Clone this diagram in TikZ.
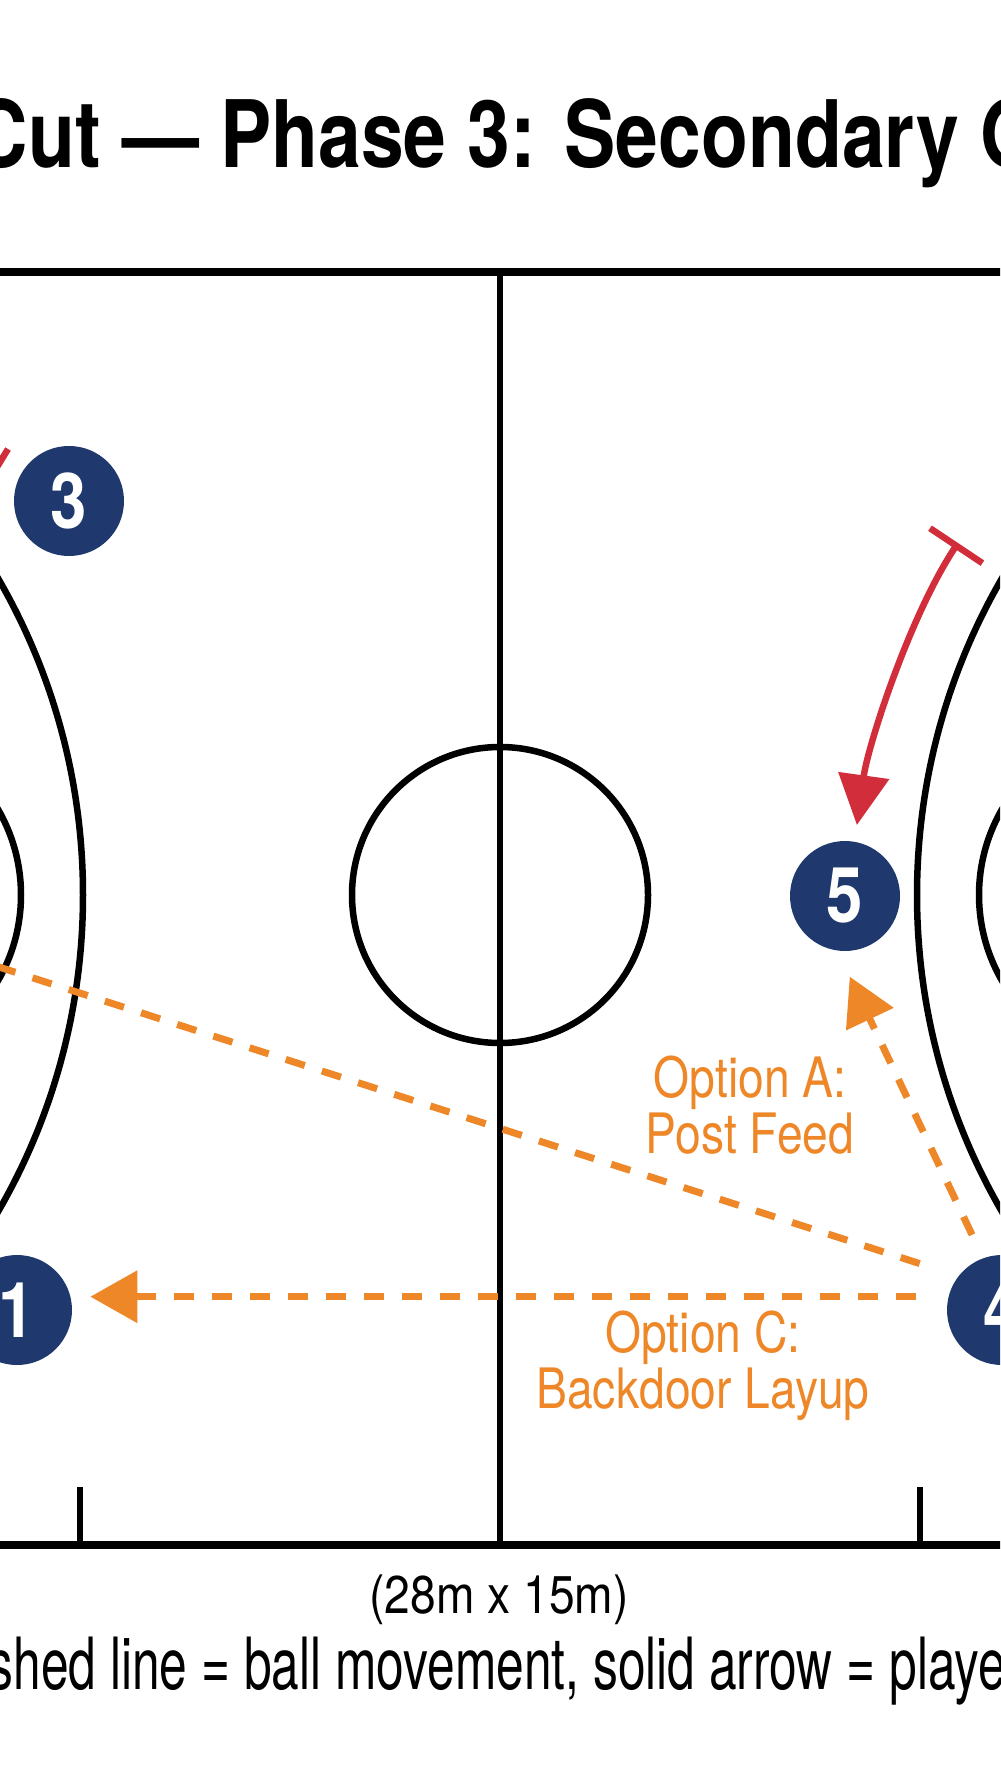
\documentclass[tikz,border=0pt]{standalone}
\usepackage{fontspec}
\setmainfont{TeX Gyre Heros}
\newfontfamily\titlefont[FakeStretch=0.825]{TeX Gyre Heros}
\newfontfamily\numfont[FakeStretch=0.85]{TeX Gyre Heros}
\newfontfamily\optfont[FakeStretch=0.83]{TeX Gyre Heros}
\newfontfamily\sizefont[FakeStretch=0.87]{TeX Gyre Heros}
\newfontfamily\keyfont[FakeStretch=0.69]{TeX Gyre Heros}
\usetikzlibrary{arrows.meta}
\definecolor{navy}{RGB}{31,56,109}
\definecolor{passorange}{RGB}{238,135,40}
\definecolor{cutred}{RGB}{210,45,58}
\tikzset{
  court/.style = {black, line width=0.65mm},
  player/.style = {circle, fill=navy, text=white, minimum size=11mm,
    inner sep=0pt, outer sep=0pt, font=\numfont\bfseries\fontsize{21.9}{22}\selectfont},
  pass/.style = {passorange, line width=0.7mm, dash pattern=on 2mm off 1.8mm,
    -{Triangle[length=4.7mm,width=5.1mm]}},
  cut/.style = {cutred, line width=0.65mm,
    {Bar[width=6.3mm]}-{Triangle[length=5mm,width=5mm]}},
  optlabel/.style = {passorange, align=center, inner sep=0pt,
    font=\optfont\fontsize{15.85}{15.9}\selectfont}
}
\begin{document}
\begin{tikzpicture}[x=0.1mm, y=-0.1mm]
  \useasboundingbox (0,0) rectangle (1000,1792);
  \clip (0,0) rectangle (1000,1792);
  \fill[white] (0,0) rectangle (1000,1792);

  % title
  \node[anchor=base west, inner sep=0pt, font=\titlefont\bfseries\fontsize{26.5}{28}\selectfont]
    (title) at (-28,168) {Cut — Phase 3: Secondary O};

  % court
  \draw[court, line width=0.8mm] (-20,272) -- (1020,272) (-20,1545) -- (1020,1545);
  \draw[court] (500,272) -- (500,1545);
  \draw[court] (500,895) circle (148);
  \draw[court] (-549,895) circle (632) (-150,895) circle (171);
  \draw[court] (1549,895) circle (632) (1150,895) circle (171);
  \draw[court] (80,1487) -- (80,1545) (920,1487) -- (920,1545);

  % players
  \node[player] (p3) at (69,501) {3};
  \node[player] (p5) at (845,896) {5};
  \node[player] (p1) at (17,1310) {1};
  \node[player] (p4) at (1002,1310) {4};

  % ball movement
  \coordinate (passB) at (-60,948);
  \draw[pass, shorten <=4.1mm] (p4.142) -- (passB);
  \draw[pass, shorten <=2.6mm, shorten >=2.9mm] (p4.110) -- (p5.262);
  \draw[pass, shorten <=3.3mm, shorten >=2mm] (p4.166) -- (p1.14);

  % player movement
  \coordinate (cut5) at (958,543);
  \draw[cut, shorten >=1.7mm] (cut5) .. controls (910,615) and (868,745) .. (p5.80);
  \draw[cutred, line width=0.65mm] (-6,472) -- (8,449);

  % labels
  \node[optlabel] (optA) at (750,1105) {Option A:\\Post Feed};
  \node[optlabel] (optC) at (703,1366) {Option C:\\Backdoor Layup};
  \node[anchor=base, inner sep=0pt, font=\sizefont\fontsize{15.1}{16}\selectfont]
    (dims) at (499,1613) {(28m x 15m)};
  \node[anchor=base west, inner sep=0pt, font=\keyfont\fontsize{20.5}{22}\selectfont]
    (key) at (-12,1689) {shed line = ball movement, solid arrow = playe};
\end{tikzpicture}
\end{document}
